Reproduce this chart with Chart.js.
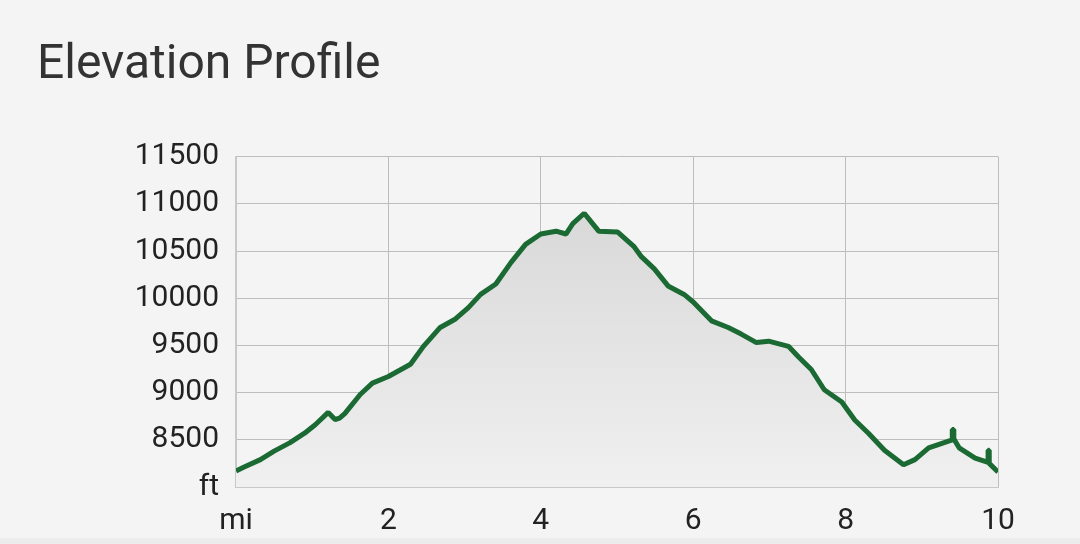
<!DOCTYPE html>
<html>
<head>
<meta charset="utf-8">
<title>Elevation Profile</title>
<script src="https://cdn.jsdelivr.net/npm/chart.js@4.4.1/dist/chart.umd.min.js"></script>
<style>
    html, body { margin: 0; padding: 0; background: #f4f4f4; }
    #wrap { position: relative; width: 1080px; height: 544px; }
    #bottomBar { position: absolute; left: 0; right: 0; bottom: 0; height: 6px; background: #ececec; }
</style>
</head>
<body>
<div id="wrap">
    <canvas id="elevationChart"></canvas>
    <div id="bottomBar"></div>
</div>
<script>
// distance along the trail (mi) and elevation (ft)
const distanceMi = [0, 0.1, 0.32, 0.5, 0.71, 0.9, 1.04, 1.21, 1.3, 1.36, 1.43, 1.63, 1.79, 2.0,
    2.29, 2.46, 2.68, 2.88, 3.05, 3.21, 3.41, 3.61, 3.8, 4.0, 4.2, 4.33, 4.42, 4.57, 4.68, 4.76,
    5.01, 5.22, 5.32, 5.49, 5.67, 5.88, 6.0, 6.24, 6.46, 6.63, 6.83, 6.99, 7.25, 7.38, 7.55, 7.72,
    7.95, 8.12, 8.3, 8.51, 8.76, 8.91, 9.09, 9.4, 9.4, 9.42, 9.42, 9.49, 9.7, 9.87, 9.87, 9.885, 9.885, 10.0];
const elevationFt = [8170, 8210, 8290, 8380, 8470, 8570, 8660, 8790, 8715, 8730, 8780, 8980, 9100, 9170,
    9300, 9490, 9690, 9780, 9900, 10040, 10150, 10380, 10570, 10680, 10710, 10680, 10790, 10900, 10790, 10710,
    10700, 10550, 10440, 10310, 10130, 10040, 9960, 9760, 9690, 9620, 9530, 9545, 9490, 9380, 9245, 9030,
    8900, 8710, 8570, 8390, 8235, 8290, 8415, 8500, 8610, 8610, 8510, 8415, 8305, 8260, 8390, 8390, 8250, 8160];

const yTicks = [8000, 8500, 9000, 9500, 10000, 10500, 11000, 11500];
const xTicks = [0, 2, 4, 6, 8, 10];

const points = distanceMi.map((d, i) => ({ x: d, y: elevationFt[i] }));

const ctx = document.getElementById('elevationChart').getContext('2d');

function areaGradient(context) {
    const area = context.chart.chartArea;
    if (!area) return '#e4e4e4';
    const g = context.chart.ctx.createLinearGradient(0, area.top, 0, area.bottom);
    g.addColorStop(0, '#d4d4d4');
    g.addColorStop(1, '#f0f0f0');
    return g;
}

new Chart(ctx, {
    type: 'line',
    data: {
        datasets: [{
            label: 'Elevation (ft)',
            data: points,
            borderColor: '#1b6a34',
            borderWidth: 5,
            borderJoinStyle: 'bevel',
            backgroundColor: areaGradient,
            fill: 'start',
            tension: 0,
            pointRadius: 0
        }]
    },
    options: {
        responsive: true,
        maintainAspectRatio: false,
        animation: false,
        layout: { padding: { left: 37, right: 82, top: 37, bottom: 5 } },
        scales: {
            x: {
                type: 'linear',
                min: 0,
                max: 10,
                afterBuildTicks: axis => { axis.ticks = xTicks.map(v => ({ value: v })); },
                afterFit: axis => { axis.height = 52; },
                ticks: {
                    color: '#222',
                    font: { family: 'Roboto', size: 30 },
                    padding: 16,
                    maxRotation: 0,
                    callback: v => v === 0 ? 'mi' : v
                },
                grid: { color: '#bdbdbd', lineWidth: 1, drawTicks: false },
                border: { color: '#c8c8c8', width: 2 }
            },
            y: {
                min: 8000,
                max: 11500,
                afterBuildTicks: axis => { axis.ticks = yTicks.map(v => ({ value: v })); },
                afterFit: axis => { axis.width = 199; },
                ticks: {
                    color: '#222',
                    font: { family: 'Roboto', size: 30 },
                    padding: 17,
                    callback: v => v === 8000 ? 'ft' : v
                },
                grid: { color: '#bdbdbd', lineWidth: 1, drawTicks: false },
                border: { color: '#c8c8c8', width: 2 }
            }
        },
        plugins: {
            legend: { display: false },
            tooltip: { enabled: false },
            title: {
                display: true,
                text: 'Elevation Profile',
                align: 'start',
                color: '#333',
                font: { family: 'Roboto', size: 48, weight: 'normal' },
                padding: { top: 0, bottom: 62 }
            }
        }
    }
});
</script>
</body>
</html>
